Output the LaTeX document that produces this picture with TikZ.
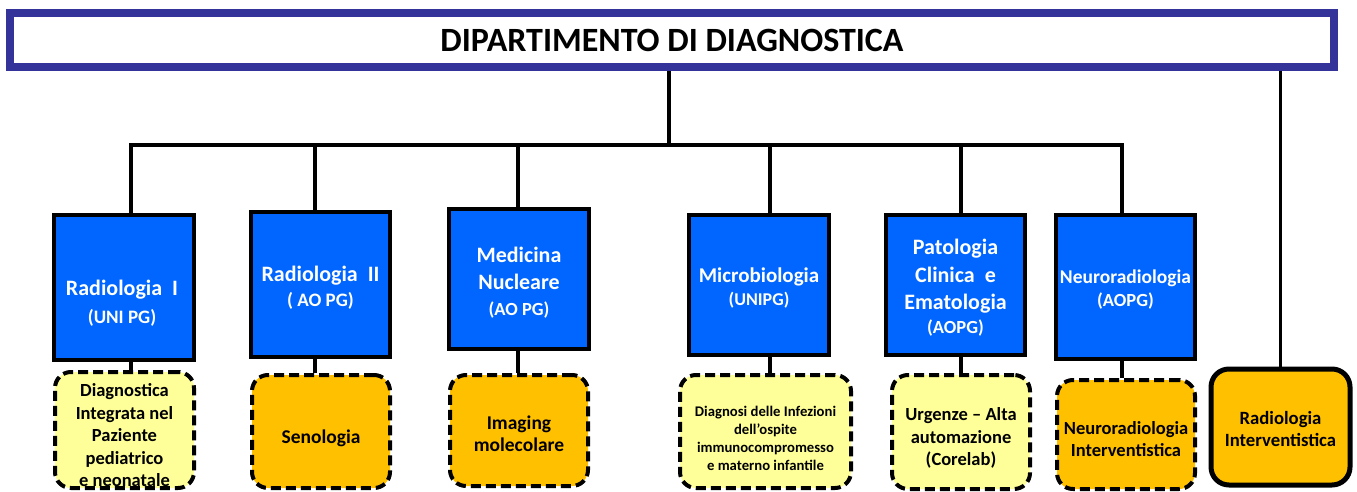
\documentclass[tikz,border=0pt]{standalone}
\usepackage{fontspec}
\setmainfont{Carlito}
\definecolor{depblue}{RGB}{0,102,255}
\definecolor{gold}{RGB}{255,192,0}
\definecolor{paleyellow}{RGB}{255,255,153}
\definecolor{navyframe}{RGB}{51,51,153}
\begin{document}
\begin{tikzpicture}[x=1pt,y=-1pt,
  titlebox/.style={draw=navyframe, line width=8pt, fill=white, inner sep=0,
    font=\bfseries\fontsize{34}{40}\selectfont},
  unitbox/.style={draw=black, line width=4.5pt, fill=depblue, inner sep=0},
  unittext/.style={text=white, align=center, inner sep=0,
    font=\bfseries\fontsize{22}{27}\selectfont},
  servicebox/.style={draw=black, line width=4pt, dash pattern=on 10pt off 5pt,
    rounded corners=16pt, inner sep=0},
  solidservice/.style={draw=black, line width=5pt, rounded corners=18pt, inner sep=0, fill=gold},
  servicetext/.style={text=black, align=center, inner sep=0,
    font=\bfseries\fontsize{18.5}{22.5}\selectfont},
  link/.style={draw=black, line width=3.5pt, line join=miter}
]
\useasboundingbox (0,0) rectangle (1357,492);

% title
\node[titlebox, minimum width=1324pt, minimum height=54pt] (title) at (672,40) {\raisebox{-1.5pt}{DIPARTIMENTO DI DIAGNOSTICA}};

% unit boxes
\node[unitbox, minimum width=140pt, minimum height=145pt] (b1) at (124,287.5) {};
\node[unitbox, minimum width=139pt, minimum height=145pt] (b2) at (320.5,284.5) {};
\node[unitbox, minimum width=140pt, minimum height=140pt] (b3) at (519,279) {};
\node[unitbox, minimum width=140pt, minimum height=140pt] (b4) at (759,285) {};
\node[unitbox, minimum width=139pt, minimum height=140pt] (b5) at (955.5,285) {};
\node[unitbox, minimum width=139pt, minimum height=144pt] (b6) at (1125.5,287) {};

\node[unittext] (b1t) at (122,303) {Radiologia~~I\\[0.7pt]{\fontsize{19}{20}\selectfont (UNI PG)}};
\node[unittext] (b2t) at (320.5,287.5) {Radiologia~~II\\[-2.3pt]{\fontsize{19}{20}\selectfont ( AO PG)}};
\node[unittext] (b3t) at (519,283) {Medicina\\Nucleare\\[-1.3pt]{\fontsize{18.5}{20}\selectfont (AO PG)}};
\node[unittext] (b4t) at (759,288) {{\fontsize{21}{25}\selectfont Microbiologia}\\[-3.7pt]{\fontsize{18}{20}\selectfont (UNIPG)}};
\node[unittext] (b5t) at (955.5,288) {Patologia\\[0.4pt]Clinica~~e\\[0.6pt]Ematologia\\[-3pt]{\fontsize{18.5}{20}\selectfont (AOPG)}};
\node[unittext] (b6t) at (1125.5,289.5) {{\fontsize{19.5}{22}\selectfont Neuroradiologia}\\[-4.3pt]{\fontsize{18.5}{20}\selectfont (AOPG)}};

% service boxes
\node[servicebox, fill=paleyellow, minimum width=139pt, minimum height=116pt] (d1) at (124.5,430) {};
\node[servicebox, fill=gold, minimum width=138pt, minimum height=113pt] (d2) at (321,431.5) {};
\node[servicebox, fill=gold, minimum width=138pt, minimum height=111pt] (d3) at (519,430.5) {};
\node[servicebox, fill=paleyellow, minimum width=171pt, minimum height=113pt] (d4) at (765.5,431.5) {};
\node[servicebox, fill=paleyellow, minimum width=138pt, minimum height=114pt] (d5) at (961,432) {};
\node[servicebox, fill=gold, minimum width=138pt, minimum height=109pt] (d6) at (1126,434.5) {};
\node[solidservice, minimum width=139pt, minimum height=116pt] (ri) at (1280.5,427) {};

\node[servicetext] (d1t) at (124.5,435.5) {Diagnostica\\Integrata nel\\Paziente\\pediatrico\\e neonatale};
\node[servicetext, font=\bfseries\fontsize{19.5}{22.5}\selectfont] (d2t) at (321,438) {Senologia};
\node[servicetext, font=\bfseries\fontsize{19.5}{21.7}\selectfont] (d3t) at (519,434) {Imaging\\molecolare};
\node[servicetext, font=\bfseries\fontsize{14.7}{18}\selectfont] (d4t) at (765.5,438) {Diagnosi delle Infezioni\\dell’ospite\\immunocompromesso\\e materno infantile};
\node[servicetext] (d5t) at (961,438) {Urgenze – Alta\\automazione\\(Corelab)};
\node[servicetext, font=\bfseries\fontsize{18.5}{22.7}\selectfont] (d6t) at (1126,439) {Neuroradiologia\\Interventistica};
\node[servicetext, font=\bfseries\fontsize{18.7}{22.7}\selectfont] (rit) at (1280.5,429) {Radiologia\\Interventistica};

% junctions on the bus
\coordinate (j0) at (669,145);
\coordinate (j1) at (131,145);
\coordinate (j2) at (315,145);
\coordinate (j3) at (518,145);
\coordinate (j4) at (770,145);
\coordinate (j5) at (961,145);
\coordinate (j6) at (1122,145);

% connectors
\draw[link] (title.south -| j0) -- (j0);
\draw[link] (j1 |- b1.north) -- (j1) -- (j6) -- (j6 |- b6.north);
\draw[link] (j2) -- (j2 |- b2.north);
\draw[link] (j3) -- (j3 |- b3.north);
\draw[link] (j4) -- (j4 |- b4.north);
\draw[link] (j5) -- (j5 |- b5.north);
\draw[link] (title.south -| ri.north) -- (ri.north);

\draw[link] (j1 |- b1.south) -- (j1 |- d1.north);
\draw[link] (j2 |- b2.south) -- (j2 |- d2.north);
\draw[link] (j3 |- b3.south) -- (j3 |- d3.north);
\draw[link] (j4 |- b4.south) -- (j4 |- d4.north);
\draw[link] (j5 |- b5.south) -- (j5 |- d5.north);
\draw[link] (j6 |- b6.south) -- (j6 |- d6.north);
\end{tikzpicture}
\end{document}
